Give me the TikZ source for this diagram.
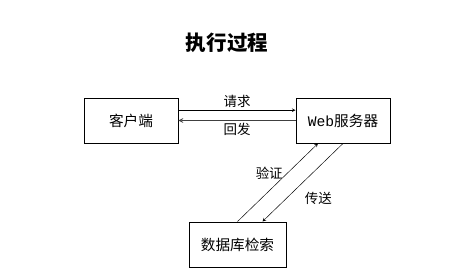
\documentclass[tikz,border=0pt]{standalone}
\usepackage{fontspec}
\setmainfont{Noto Sans CJK SC}
\newfontfamily\webfont{Liberation Mono}
\begin{document}
\begin{tikzpicture}[>=stealth,
  box/.style={rectangle, draw, line width=0.8pt, minimum width=2.82cm, minimum height=1.35cm, font=\fontsize{12.5}{14}\selectfont},
  lbl/.style={font=\fontsize{11.5}{13}\selectfont, inner sep=2pt}]
\useasboundingbox (0,0) rectangle (14.28,8.1);
\node[font=\fontsize{17.5}{20}\selectfont\bfseries] (title) at (6.81,6.81) {执行过程};
\node[box] (client) at (3.93,4.485) {客户端};
\node[box] (web) at (10.29,4.485) {{\webfont Web}服务器};
\node[box, minimum width=2.91cm] (db) at (7.125,0.765) {数据库检索};
\draw[->] ([yshift=0.31cm]client.east) -- node[lbl, above] {请求} ([yshift=0.31cm]web.west);
\draw[->, line width=0.8pt, black!75] (web.west) -- node[lbl, below, black] {回发} (client.west -| client.east);
\draw[->] (db.north) -- node[lbl, pos=0.55, above left=-3pt] {验证} ([xshift=-0.75cm]web.south);
\draw[->] (web.south) -- node[lbl, pos=0.55, below right=3pt] {传送} ([xshift=0.75cm]db.north);
\end{tikzpicture}
\end{document}
